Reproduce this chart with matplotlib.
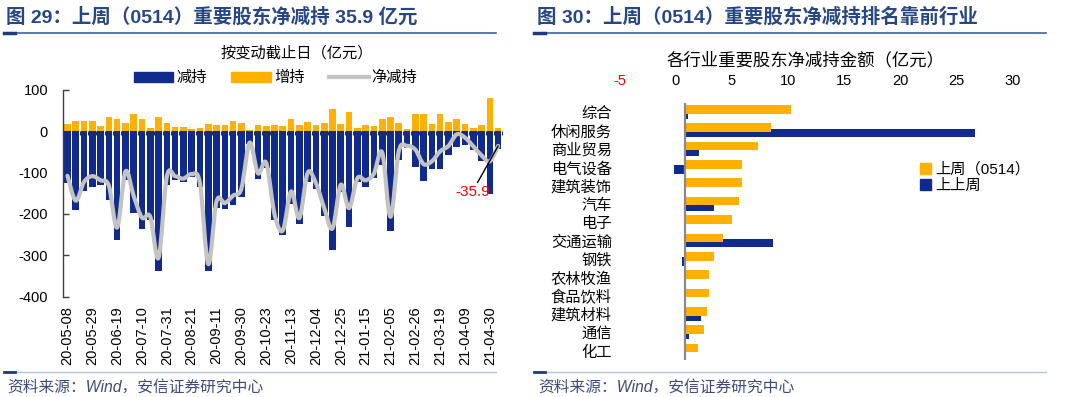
import numpy as np
import matplotlib
matplotlib.use("Agg")
import matplotlib.pyplot as plt
from matplotlib.path import Path
from matplotlib.patches import PathPatch, Patch
from matplotlib.lines import Line2D
import matplotlib.transforms as mtransforms

plt.rcParams['font.family'] = ['Liberation Sans', 'Noto Sans CJK SC']
plt.rcParams['axes.unicode_minus'] = False

# ---------------- data: left chart (weekly, 亿元) ----------------
tick_labels = ['20-05-08', '20-05-29', '20-06-19', '20-07-10', '20-07-31', '20-08-21',
               '20-09-11', '20-09-30', '20-10-23', '20-11-13', '20-12-04', '20-12-25',
               '21-01-15', '21-02-05', '21-02-26', '21-03-19', '21-04-09', '21-04-30']
decrease = [-126, -191, -146, -134, -130, -167, -263, -118, -197, -237, -215, -339,
            -130, -118, -124, -110, -134, -337, -185, -189, -179, -159, -31, -116,
            -89, -215, -252, -176, -224, -122, -141, -206, -287, -148, -232, -122,
            -134, -114, -81, -242, -69, -41, -87, -120, -91, -91, -57, -38, -34,
            -45, -73, -153, -43.9]
increase = [18, 23, 23, 25, 11, 35, 30, 20, 40, 28, 8, 33, 20, 9, 9, 6, 8, 16, 15, 15,
            23, 20, 3, 14, 12, 14, 12, 30, 14, 21, 15, 20, 52, 18, 46, 8, 15, 11, 29,
            35, 20, 5, 42, 40, 18, 42, 21, 30, 18, 8, 14, 80, 8]
last_net_label = '-35.9'

# ---------------- data: right chart (亿元) ----------------
industries = ['综合', '休闲服务', '商业贸易', '电气设备', '建筑装饰', '汽车', '电子',
              '交通运输', '钢铁', '农林牧渔', '食品饮料', '建筑材料', '通信', '化工']
last_week = [9.4, 7.6, 6.44, 5.07, 5.07, 4.78, 4.18, 3.38, 2.52, 2.14, 2.14, 1.96, 1.66, 1.16]
prev_week = [0.2, 25.8, 1.19, -0.98, -0.15, 2.58, 0.1, 7.8, -0.27, 0.02, 0.0, 1.39, 0.33, 0.1]
x_ticks_right = [-5, 0, 5, 10, 15, 20, 25, 30]

BLUE = '#112A8E'
ORANGE = '#FFB000'
GREY = '#C3C3C3'
HEAD = '#264685'

W, H = 1080, 397
fig = plt.figure(figsize=(W / 100, H / 100), dpi=100)
fig.patch.set_facecolor('white')


def fx(px):
    return px / W


def fy(py):
    return 1 - py / H


# ---------------- left chart ----------------
axL = fig.add_axes([fx(63.3), fy(296.7), (502.3 - 63.3) / W, (296.7 - 89.6) / H])
xs = np.arange(len(decrease))
dec = np.array(decrease, dtype=float)
inc = np.array(increase, dtype=float)
net = dec + inc

axL.bar(xs, dec, width=0.8, color=BLUE, zorder=2)
axL.bar(xs, inc, width=0.8, color=ORANGE, zorder=2)


def smooth_path(xv, yv):
    pts = np.column_stack([xv, yv])
    n = len(pts)
    verts = [pts[0]]
    codes = [Path.MOVETO]
    for i in range(n - 1):
        p0 = pts[i - 1] if i > 0 else pts[i]
        p1 = pts[i]
        p2 = pts[i + 1]
        p3 = pts[i + 2] if i + 2 < n else pts[i + 1]
        c1 = p1 + (p2 - p0) / 6.0
        c2 = p2 - (p3 - p1) / 6.0
        verts += [c1, c2, p2]
        codes += [Path.CURVE4] * 3
    return Path(verts, codes)


axL.add_patch(PathPatch(smooth_path(xs, net), facecolor='none', edgecolor=GREY,
                        lw=3, zorder=4, capstyle='round', joinstyle='round'))

axL.set_xlim(-0.5, len(dec) - 0.5)
axL.set_ylim(-400, 100)
axL.set_yticks([100, 0, -100, -200, -300, -400])
axL.set_yticklabels(['100', '0', '-100', '-200', '-300', '-400'])
axL.tick_params(axis='y', direction='in', length=4, width=1, color='#404040',
                labelsize=10.5, pad=11)
axL.set_xticks(xs[::3])
axL.set_xticklabels(tick_labels, rotation=90, fontsize=10.5)
axL.tick_params(axis='x', length=0, pad=7)
for s in ['top', 'right', 'bottom']:
    axL.spines[s].set_visible(False)
axL.spines['left'].set_color('#404040')
axL.spines['left'].set_linewidth(1)

# zero line with separator ticks
sec = axL.secondary_xaxis(0.8)
sec.set_xticks(np.arange(len(dec) + 1) - 0.5)
sec.tick_params(axis='x', direction='in', length=3, width=0.8, color='#303030',
                labelbottom=False, labeltop=False)
sec.spines['bottom'].set_color('black')
sec.spines['bottom'].set_linewidth(1)
sec.spines['top'].set_visible(False)

axL.annotate(last_net_label, xy=(xs[-1], net[-1]), xytext=(48.9, -148),
             textcoords='data', color='red', fontsize=11, ha='center', va='center',
             zorder=6,
             arrowprops=dict(arrowstyle='-', color='black', lw=1, shrinkA=0, shrinkB=0,
                             relpos=(0.6, 1.0)))

fig.text(fx(297), fy(53), '按变动截止日（亿元）', ha='center', va='center', fontsize=11)
handlesL = [Patch(color=BLUE), Patch(color=ORANGE), Line2D([], [], color=GREY, lw=3)]
fig.legend(handlesL, ['减持', '增持', '净减持'], loc='center',
           bbox_to_anchor=(fx(275.5), fy(78)), ncol=3, frameon=False,
           handlelength=2.6, handleheight=0.65, handletextpad=0.2, columnspacing=1.6,
           fontsize=11, borderpad=0)

# ---------------- right chart ----------------
axR = fig.add_axes([fx(629.2), fy(360.3), (1022.2 - 629.2) / W, (360.3 - 103.3) / H])
ys = np.arange(len(industries))
axR.barh(ys + 0.12, prev_week, height=0.47, color=BLUE, zorder=2)
axR.barh(ys - 0.17, last_week, height=0.47, color=ORANGE, zorder=3)
axR.axvline(0, color='#8A8A8A', lw=1.6, zorder=4)
axR.set_xlim(-5, 30)
axR.set_ylim(len(industries) - 0.5, -0.5)
axR.set_yticks(ys)
axR.set_yticklabels(industries, fontsize=11)
axR.tick_params(axis='y', length=0, pad=12.5)
axR.xaxis.tick_top()
axR.set_xticks(x_ticks_right)
axR.set_xticklabels([str(v) for v in x_ticks_right], fontsize=10.5)
axR.tick_params(axis='x', length=0, pad=11)
shift = mtransforms.ScaledTranslation(-9.6 / 100, 0, fig.dpi_scale_trans)
for lab, v in zip(axR.get_xticklabels(), x_ticks_right):
    lab.set_transform(lab.get_transform() + shift)
    if v < 0:
        lab.set_color('red')
for s in axR.spines.values():
    s.set_visible(False)

fig.text(fx(806), fy(60), '各行业重要股东净减持金额（亿元）', ha='center', va='center',
         fontsize=12.5)
handlesR = [Patch(color=ORANGE), Patch(color=BLUE)]
fig.legend(handlesR, ['上周（0514）', '上上周'], loc='upper left',
           bbox_to_anchor=(fx(920), fy(162)), frameon=False, handlelength=0.7,
           handleheight=0.7, handletextpad=0.3, labelspacing=0.15, fontsize=11,
           borderpad=0, borderaxespad=0)

# ---------------- headers & footers ----------------
fig.text(fx(6), fy(17), '图 29：上周（0514）重要股东净减持 35.9 亿元', ha='left', va='center',
         fontsize=14, fontweight='bold', color=HEAD)
fig.text(fx(537), fy(17), '图 30：上周（0514）重要股东净减持排名靠前行业', ha='left',
         va='center', fontsize=14, fontweight='bold', color=HEAD)
for x0, x1 in [(4, 496), (534, 1046)]:
    fig.add_artist(Line2D([fx(x0), fx(x1)], [fy(33), fy(33)], color='#3F5FA8', lw=1.2))
    fig.add_artist(Line2D([fx(x0), fx(x0 + 11)], [fy(33), fy(33)], color='#1F3A7A', lw=2.5))
    fig.add_artist(Line2D([fx(x0), fx(x1)], [fy(372), fy(372)], color='#B3C3E0', lw=1))
    fig.add_artist(Line2D([fx(x0), fx(x0 + 11)], [fy(372), fy(372)], color='#1F3A7A', lw=2))
for x0 in [7, 538]:
    fig.text(fx(x0), fy(387), '资料来源：Wind，安信证券研究中心', ha='left', va='center',
             fontsize=11.3, style='italic', color='#3D4C7C')

fig.savefig('out.png', dpi=100, facecolor='white')
